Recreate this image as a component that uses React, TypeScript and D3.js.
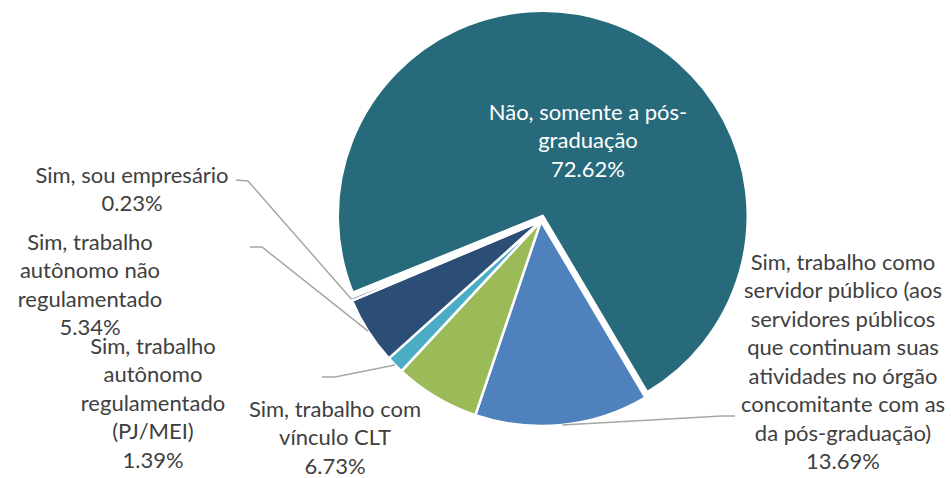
import React from "react";
import * as d3 from "d3";

// slices in clockwise order, starting at the teal/blue boundary
const categories = [
  "Sim, trabalho como servidor público (aos servidores públicos que continuam suas atividades no órgão concomitante com as da pós-graduação)",
  "Sim, trabalho com vínculo CLT",
  "Sim, trabalho autônomo regulamentado (PJ/MEI)",
  "Sim, trabalho autônomo não regulamentado",
  "Sim, sou empresário",
  "Não, somente a pós-graduação",
];
const values = [13.69, 6.73, 1.39, 5.34, 0.23, 72.62];
const labelLines = [
  ["Sim, trabalho como", "servidor público (aos", "servidores públicos", "que continuam suas", "atividades no órgão", "concomitante com as", "da pós-graduação)"],
  ["Sim, trabalho com", "vínculo CLT"],
  ["Sim, trabalho", "autônomo", "regulamentado", "(PJ/MEI)"],
  ["Sim, trabalho", "autônomo não", "regulamentado"],
  ["Sim, sou empresário"],
  ["Não, somente a pós-", "graduação"],
];
const colors = ["#4f81bd", "#9bbb59", "#4bacc6", "#2c4d75", "#2c4d75", "#276a7b"];

// label layout: text center x, first line center y, leader elbow points
const labelLayout = [
  { x: 843, y: 261, leader: [[735, 416], [722, 416]] },
  { x: 335, y: 408, leader: null },
  { x: 153, y: 345, leader: [[322, 377], [335, 377]] },
  { x: 90, y: 241, leader: [[250, 247], [262, 247]] },
  { x: 132, y: 174, leader: [[236, 180], [248, 181]] },
  { x: 588, y: 111, leader: null },
];

const width = 951;
const height = 478;
const cx = 541;
const cy = 221;
const radius = 205;
const explode = 5.5;
const lineH = 28.5;

export default function App() {
  const pie = d3
    .pie<number>()
    .value((d) => d)
    .sort(null)
    .startAngle((149.4 * Math.PI) / 180)
    .endAngle((149.4 * Math.PI) / 180 + 2 * Math.PI);
  const arcs = pie(values);
  const arc = d3.arc<d3.PieArcDatum<number>>().innerRadius(0).outerRadius(radius);
  const fmt = (v: number) => v.toFixed(2) + "%";

  return (
    <svg
      width={width}
      height={height}
      style={{ position: "absolute", left: 0, top: 0, fontFamily: "Lato, sans-serif" }}
    >
      <rect width={width} height={height} fill="#ffffff" />
      <g transform={`translate(${cx},${cy})`}>
        {arcs.map((a, i) => {
          const last = i === arcs.length - 1;
          const mid = (a.startAngle + a.endAngle) / 2;
          const dx = last ? Math.sin(mid) * explode : 0;
          const dy = last ? -Math.cos(mid) * explode : 0;
          return (
            <path
              key={i}
              d={arc(a) || ""}
              transform={`translate(${dx},${dy})`}
              fill={colors[i]}
              stroke="#ffffff"
              strokeWidth={2.5}
              strokeLinejoin="round"
            >
              <title>{categories[i]}</title>
            </path>
          );
        })}
      </g>
      {arcs.map((a, i) => {
        const lay = labelLayout[i];
        if (!lay.leader) return null;
        const mid = (a.startAngle + a.endAngle) / 2;
        const ex = cx + Math.sin(mid) * radius;
        const ey = cy - Math.cos(mid) * radius;
        const [p0, p1] = lay.leader;
        const d = `M${p0[0]},${p0[1]}L${p1[0]},${p1[1]}L${ex},${ey}`;
        return <path key={i} d={d} fill="none" stroke="#a6a6a6" strokeWidth={1.5} />;
      })}
      {arcs.map((a, i) => {
        const lay = labelLayout[i];
        const lines = [...labelLines[i], fmt(values[i])];
        const last = i === arcs.length - 1;
        return (
          <text
            key={i}
            textAnchor="middle"
            fontSize={22}
            fill={last ? "#ffffff" : "#404040"}
          >
            {lines.map((t, j) => (
              <tspan key={j} x={lay.x} y={lay.y + j * lineH} dominantBaseline="central">
                {t}
              </tspan>
            ))}
          </text>
        );
      })}
    </svg>
  );
}
